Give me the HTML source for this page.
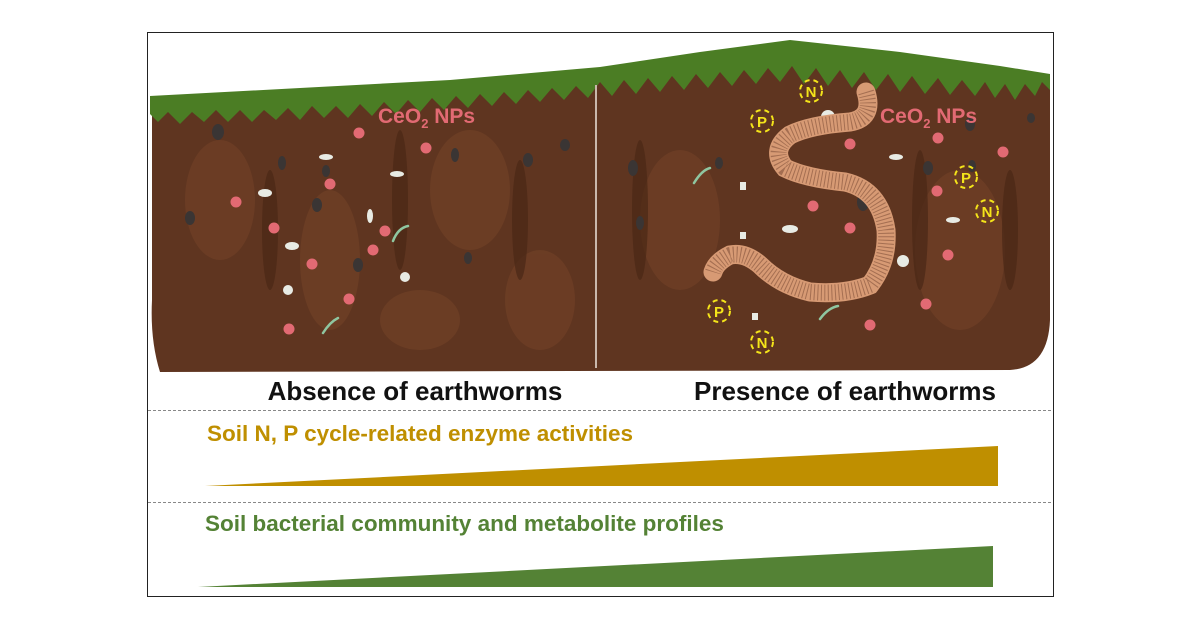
<!DOCTYPE html>
<html><head><style>
html,body{margin:0;padding:0;background:#fff;width:1200px;height:628px;overflow:hidden}
svg{display:block}
text{font-family:"Liberation Sans",Arial,sans-serif;font-weight:bold}
</style></head><body>
<svg width="1200" height="628" viewBox="0 0 1200 628">
<rect x="147.5" y="32.5" width="906" height="564" fill="#fff" stroke="#222" stroke-width="1"/>
<!-- soil -->
<path d="M152,100 L300,92 L450,84 L600,72 L700,58 L800,46 L900,58 L1000,72 L1050,80 L1050,320 Q1048,368 1010,370 L160,372 Q150,340 152,300 Z" fill="#5f3520"/>
<g fill="#6e3f25" opacity="0.8">
<ellipse cx="220" cy="200" rx="35" ry="60"/><ellipse cx="330" cy="260" rx="30" ry="70"/><ellipse cx="470" cy="190" rx="40" ry="60"/><ellipse cx="540" cy="300" rx="35" ry="50"/><ellipse cx="680" cy="220" rx="40" ry="70"/><ellipse cx="960" cy="250" rx="45" ry="80"/><ellipse cx="420" cy="320" rx="40" ry="30"/></g>
<g fill="#4a2816" opacity="0.7">
<ellipse cx="270" cy="230" rx="8" ry="60"/><ellipse cx="400" cy="200" rx="8" ry="70"/><ellipse cx="520" cy="220" rx="8" ry="60"/><ellipse cx="640" cy="210" rx="8" ry="70"/><ellipse cx="920" cy="220" rx="8" ry="70"/><ellipse cx="1010" cy="230" rx="8" ry="60"/></g>
<!-- grass -->
<path d="M150,96 L300,88 L450,80 L600,67 L700,52 L790,40 L900,52 L1000,66 L1050,74 L1050,90 L1042,82 L1035,96 L1025,84 L1015,100 L1005,84 L995,98 L985,82 L975,96 L962,80 L950,95 L938,78 L925,94 L912,76 L900,92 L888,74 L876,90 L864,72 L852,88 L840,70 L828,86 L816,68 L804,84 L792,66 L780,82 L768,68 L756,84 L744,70 L732,86 L720,72 L708,88 L696,74 L684,90 L672,76 L660,92 L648,78 L636,94 L624,80 L612,96 L600,82 L588,98 L576,86 L564,100 L552,88 L540,102 L528,90 L516,104 L504,92 L492,106 L480,94 L468,108 L456,96 L444,110 L432,98 L420,112 L408,100 L396,114 L384,102 L372,116 L360,104 L348,118 L336,106 L324,118 L312,106 L300,120 L288,108 L276,120 L264,110 L252,122 L240,110 L228,122 L216,110 L204,122 L192,112 L180,124 L168,112 L158,122 L150,114 Z" fill="#4b7d24"/>
<line x1="596" y1="85" x2="596" y2="368" stroke="#c9b8ac" stroke-width="2"/>
<!-- rocks -->
<g fill="#3a3534">
<ellipse cx="218" cy="132" rx="6" ry="8"/><ellipse cx="282" cy="163" rx="4" ry="7"/><ellipse cx="326" cy="171" rx="4" ry="6"/><ellipse cx="358" cy="265" rx="5" ry="7"/><ellipse cx="190" cy="218" rx="5" ry="7"/><ellipse cx="455" cy="155" rx="4" ry="7"/><ellipse cx="528" cy="160" rx="5" ry="7"/><ellipse cx="565" cy="145" rx="5" ry="6"/><ellipse cx="633" cy="168" rx="5" ry="8"/><ellipse cx="640" cy="223" rx="4" ry="7"/><ellipse cx="719" cy="163" rx="4" ry="6"/><ellipse cx="863" cy="202" rx="6" ry="9"/><ellipse cx="928" cy="168" rx="5" ry="7"/><ellipse cx="972" cy="166" rx="4" ry="6"/><ellipse cx="970" cy="124" rx="5" ry="7"/><ellipse cx="1031" cy="118" rx="4" ry="5"/><ellipse cx="317" cy="205" rx="5" ry="7"/><ellipse cx="468" cy="258" rx="4" ry="6"/></g>
<!-- pink dots -->
<g fill="#e26a73">
<circle cx="359" cy="133" r="5.5"/><circle cx="426" cy="148" r="5.5"/><circle cx="330" cy="184" r="5.5"/><circle cx="236" cy="202" r="5.5"/><circle cx="385" cy="231" r="5.5"/><circle cx="274" cy="228" r="5.5"/><circle cx="373" cy="250" r="5.5"/><circle cx="312" cy="264" r="5.5"/><circle cx="349" cy="299" r="5.5"/><circle cx="289" cy="329" r="5.5"/>
<circle cx="850" cy="144" r="5.5"/><circle cx="938" cy="138" r="5.5"/><circle cx="1003" cy="152" r="5.5"/><circle cx="937" cy="191" r="5.5"/><circle cx="813" cy="206" r="5.5"/><circle cx="850" cy="228" r="5.5"/><circle cx="948" cy="255" r="5.5"/><circle cx="926" cy="304" r="5.5"/><circle cx="870" cy="325" r="5.5"/></g>
<!-- microbes -->
<g fill="#e8ebe4"><ellipse cx="265" cy="193" rx="7" ry="4"/><ellipse cx="397" cy="174" rx="7" ry="3"/><ellipse cx="326" cy="157" rx="7" ry="3"/><ellipse cx="292" cy="246" rx="7" ry="4"/><ellipse cx="370" cy="216" rx="3" ry="7"/><circle cx="288" cy="290" r="5"/><circle cx="405" cy="277" r="5"/><circle cx="828" cy="117" r="7"/><ellipse cx="790" cy="229" rx="8" ry="4"/><ellipse cx="896" cy="157" rx="7" ry="3"/><ellipse cx="953" cy="220" rx="7" ry="3"/><circle cx="903" cy="261" r="6"/><rect x="740" y="182" width="6" height="8"/><rect x="752" y="313" width="6" height="7"/><rect x="740" y="232" width="6" height="7"/></g>
<g fill="none" stroke="#8fc6a0" stroke-width="2.5" stroke-linecap="round">
<path d="M393,241 Q398,228 408,226"/><path d="M323,333 Q330,322 338,318"/><path d="M694,183 Q702,170 710,168"/><path d="M820,319 Q828,308 838,306"/></g>
<!-- worm -->
<path d="M866,92 Q874,118 850,122 Q810,125 790,135 Q770,150 785,168 Q805,178 845,182 Q880,190 886,230 Q888,262 870,285 Q845,295 810,292 Q780,285 760,265 Q745,252 730,255 Q716,262 713,272" fill="none" stroke="#d79a74" stroke-width="19" stroke-linecap="round"/>
<path d="M866,92 Q874,118 850,122 Q810,125 790,135 Q770,150 785,168 Q805,178 845,182 Q880,190 886,230 Q888,262 870,285 Q845,295 810,292 Q780,285 760,265 Q745,252 730,255 Q716,262 713,272" fill="none" stroke="#7a4a34" stroke-width="16" stroke-dasharray="1 2.5" opacity="0.55"/>
<!-- P N markers -->
<g font-size="15" fill="#f4e41a">
<text x="762" y="127" text-anchor="middle">P</text><text x="811" y="97" text-anchor="middle">N</text><text x="966" y="183" text-anchor="middle">P</text><text x="987" y="217" text-anchor="middle">N</text><text x="719" y="317" text-anchor="middle">P</text><text x="762" y="348" text-anchor="middle">N</text></g>
<g fill="none" stroke="#f4e41a" stroke-width="2" stroke-dasharray="5 4">
<circle cx="762" cy="121" r="11"/><circle cx="811" cy="91" r="11"/><circle cx="966" cy="177" r="11"/><circle cx="987" cy="211" r="11"/><circle cx="719" cy="311" r="11"/><circle cx="762" cy="342" r="11"/></g>
<g font-size="21" fill="#e26a73">
<text x="378" y="123">CeO<tspan font-size="13" dy="5">2</tspan><tspan dy="-5"> NPs</tspan></text>
<text x="880" y="123">CeO<tspan font-size="13" dy="5">2</tspan><tspan dy="-5"> NPs</tspan></text></g>
<text x="415" y="400" font-size="26" fill="#111" text-anchor="middle">Absence of earthworms</text>
<text x="845" y="400" font-size="26" fill="#111" text-anchor="middle">Presence of earthworms</text>
<line x1="148" y1="410.5" x2="1053" y2="410.5" stroke="#888" stroke-dasharray="3 2"/>
<line x1="148" y1="502.5" x2="1053" y2="502.5" stroke="#888" stroke-dasharray="3 2"/>
<text x="207" y="441" font-size="22.5" fill="#bf8f00">Soil N, P cycle-related enzyme activities</text>
<polygon points="205,486 998,446 998,486" fill="#bf8f00"/>
<text x="205" y="531" font-size="22.5" fill="#548235">Soil bacterial community and metabolite profiles</text>
<polygon points="198,587 993,546 993,587" fill="#548235"/>
</svg>
</body></html>
